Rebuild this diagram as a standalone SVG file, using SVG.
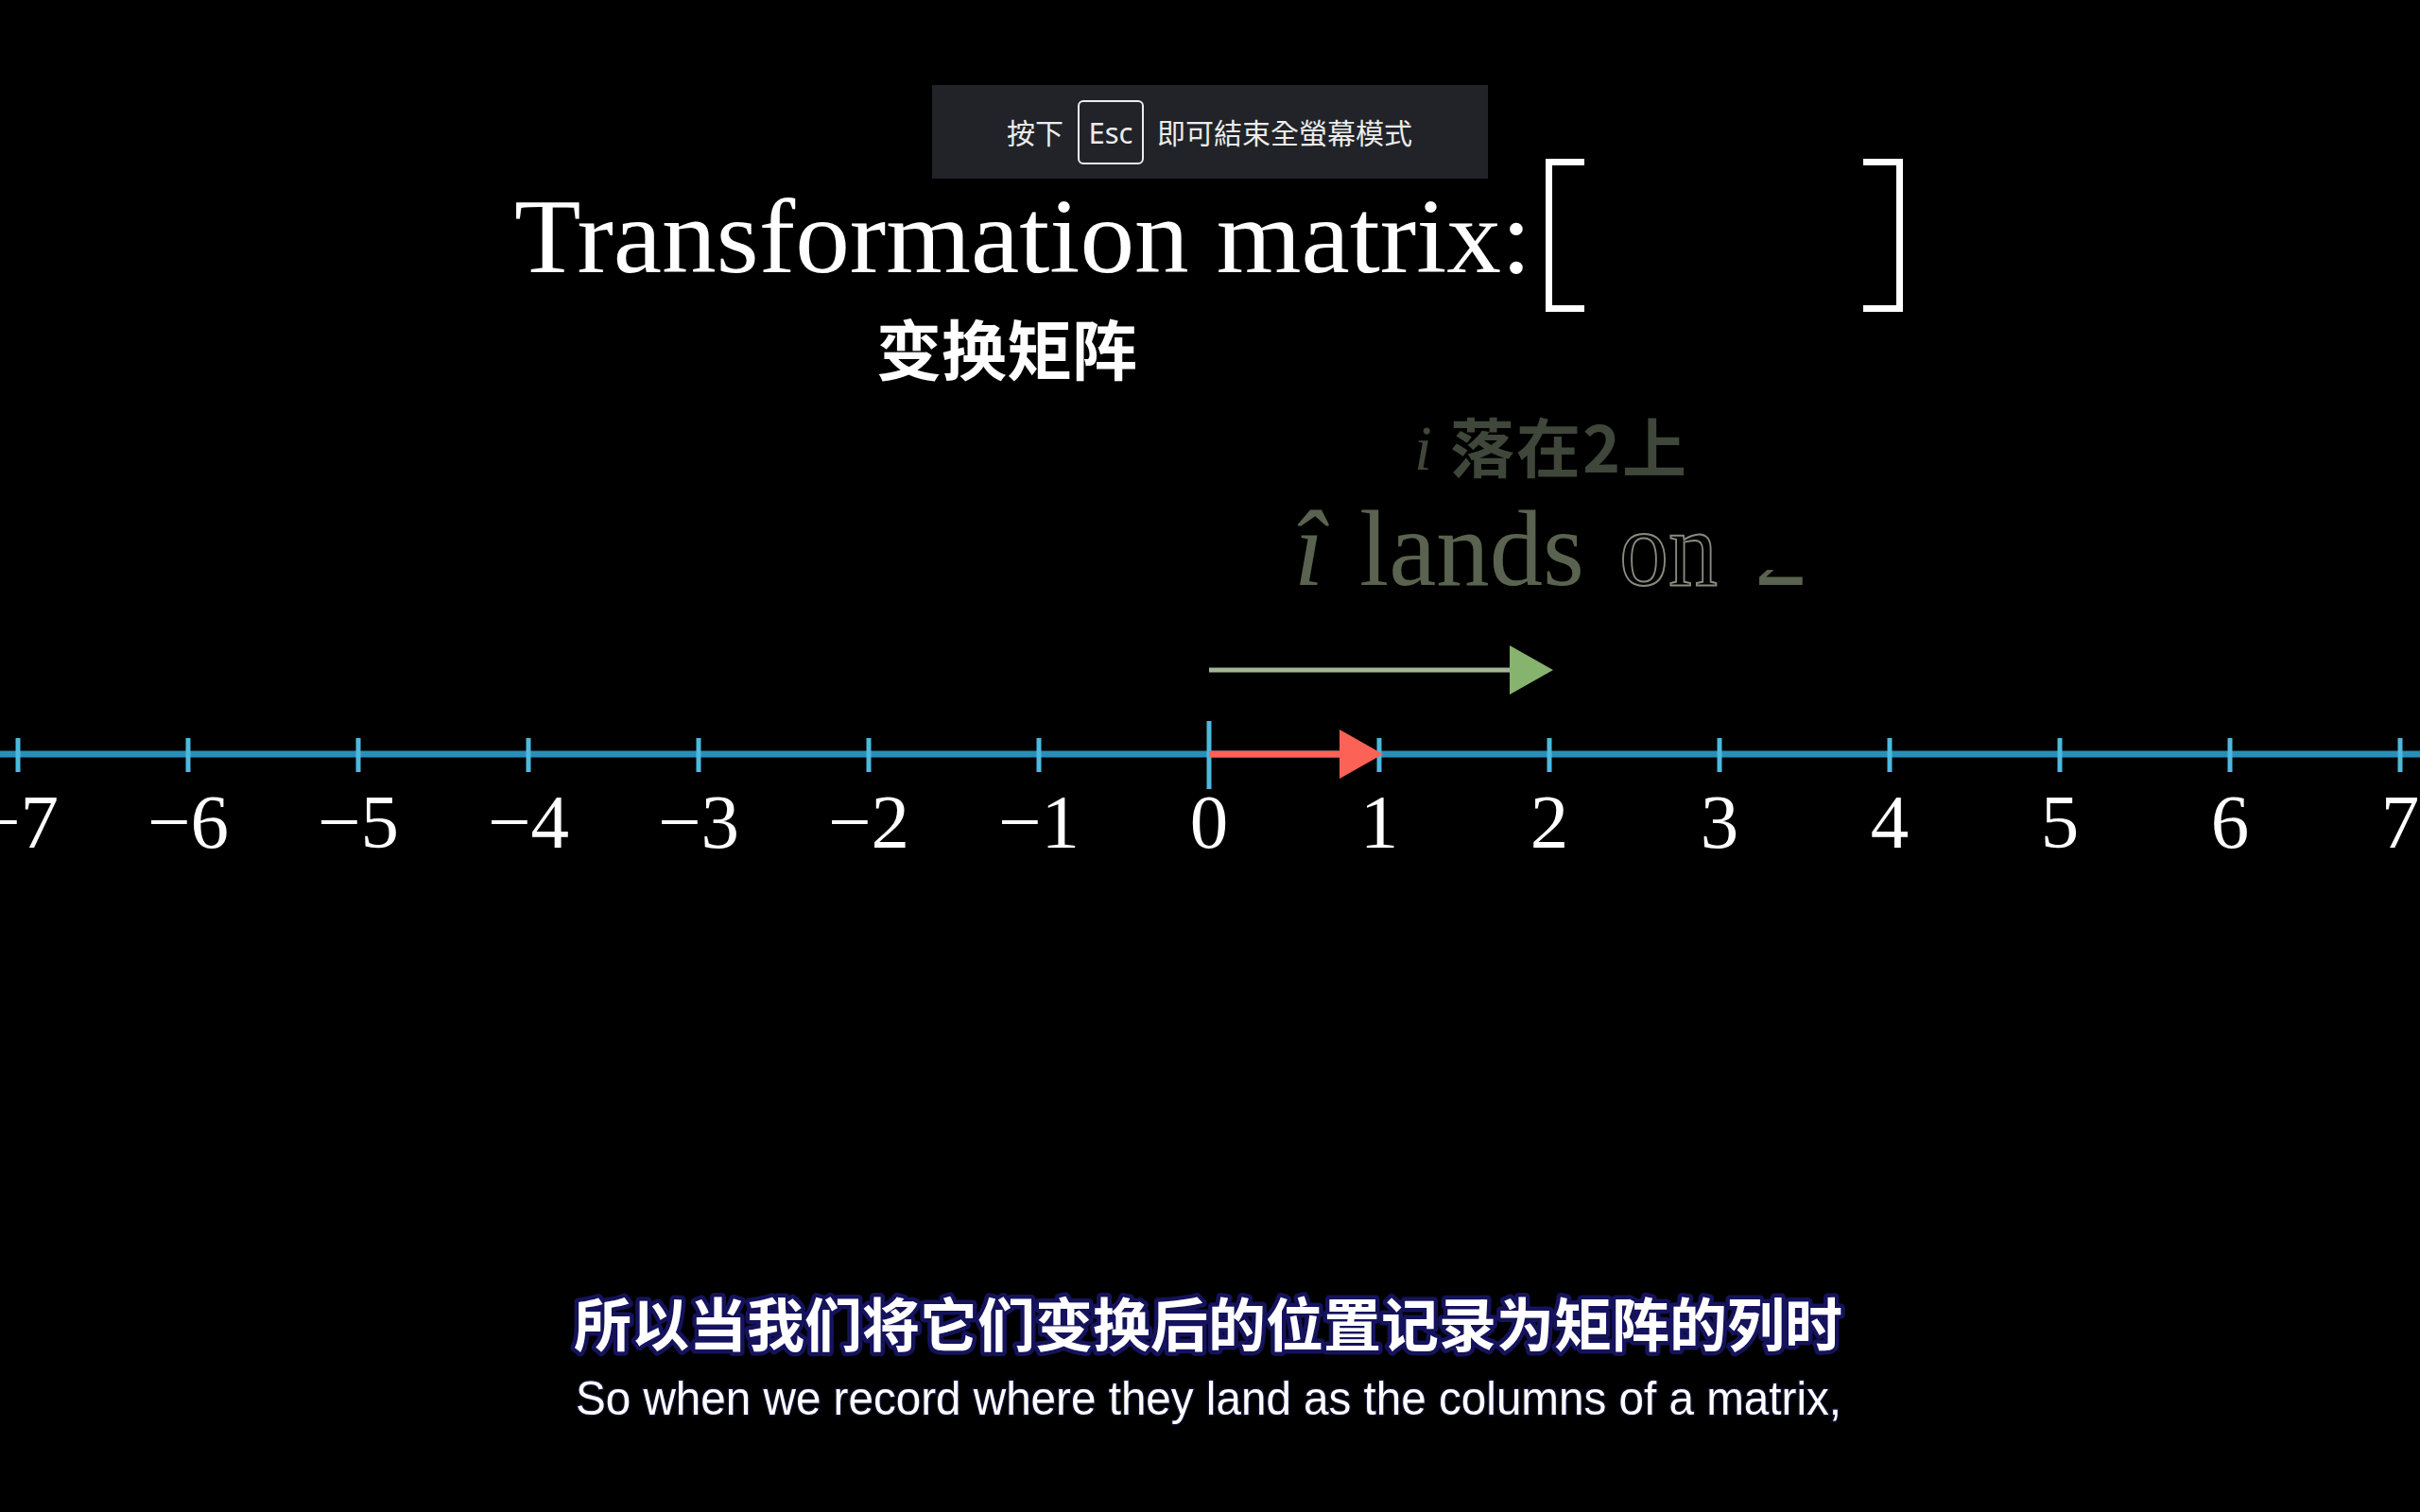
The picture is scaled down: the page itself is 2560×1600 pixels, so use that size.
<svg xmlns="http://www.w3.org/2000/svg" width="2560" height="1600" viewBox="0 0 2560 1600">
<style>
.tick{stroke:#4db9de;stroke-width:5}
.num{font-family:"Liberation Serif","DejaVu Serif",serif;font-size:81px;fill:#ffffff;text-anchor:middle}
.title{font-family:"Liberation Serif","DejaVu Serif",serif;fill:#ffffff}
.br{fill:none;stroke:#ffffff;stroke-width:7}
.esc{font-family:"Noto Sans CJK TC","Noto Sans",sans-serif;font-size:30px;fill:#ececec}
.sub{font-family:"Noto Sans CJK SC",sans-serif;font-weight:700;font-size:61px;fill:#ffffff;stroke:#15135c;stroke-width:9;stroke-linejoin:round;paint-order:stroke}
.en{font-family:"Liberation Sans",Arial,sans-serif;font-size:50px;fill:#ffffff;stroke:#101030;stroke-width:3;paint-order:stroke}
.ih{font-family:"Liberation Serif","DejaVu Serif",serif;font-size:114px;fill:#59634f}
</style>
<defs>
<clipPath id="clip2"><rect x="1850" y="603" width="80" height="30"/></clipPath>
</defs>
<rect width="2560" height="1600" fill="#000000"/>

<g id="numberline">
<line x1="0" y1="798" x2="2560" y2="798" stroke="#2690b8" stroke-width="7"/>
<line class="tick" x1="19" y1="781" x2="19" y2="817"/>
<line class="tick" x1="199" y1="781" x2="199" y2="817"/>
<line class="tick" x1="379" y1="781" x2="379" y2="817"/>
<line class="tick" x1="559" y1="781" x2="559" y2="817"/>
<line class="tick" x1="739" y1="781" x2="739" y2="817"/>
<line class="tick" x1="919" y1="781" x2="919" y2="817"/>
<line class="tick" x1="1099" y1="781" x2="1099" y2="817"/>
<line class="tick" x1="1279" y1="763" x2="1279" y2="835"/>
<line class="tick" x1="1459" y1="781" x2="1459" y2="817"/>
<line class="tick" x1="1639" y1="781" x2="1639" y2="817"/>
<line class="tick" x1="1819" y1="781" x2="1819" y2="817"/>
<line class="tick" x1="1999" y1="781" x2="1999" y2="817"/>
<line class="tick" x1="2179" y1="781" x2="2179" y2="817"/>
<line class="tick" x1="2359" y1="781" x2="2359" y2="817"/>
<line class="tick" x1="2539" y1="781" x2="2539" y2="817"/>
</g>

<g id="labels">
<text class="num" x="19" y="897">−7</text>
<text class="num" x="199" y="897">−6</text>
<text class="num" x="379" y="897">−5</text>
<text class="num" x="559" y="897">−4</text>
<text class="num" x="739" y="897">−3</text>
<text class="num" x="919" y="897">−2</text>
<text class="num" x="1099" y="897">−1</text>
<text class="num" x="1279" y="897">0</text>
<text class="num" x="1459" y="897">1</text>
<text class="num" x="1639" y="897">2</text>
<text class="num" x="1819" y="897">3</text>
<text class="num" x="1999" y="897">4</text>
<text class="num" x="2179" y="897">5</text>
<text class="num" x="2359" y="897">6</text>
<text class="num" x="2539" y="897">7</text>
</g>

<g id="vectors">
<line x1="1279" y1="709" x2="1600" y2="709" stroke="#a3b596" stroke-width="5"/>
<polygon points="1597,683 1643,709 1597,735" fill="#86b36e"/>
<line x1="1279" y1="798" x2="1420" y2="798" stroke="#fc6255" stroke-width="7"/>
<polygon points="1417,772 1463,798 1417,824" fill="#fc6255"/>
</g>

<g id="title">
<text class="title" x="544" y="288" font-size="112" textLength="1076" lengthAdjust="spacingAndGlyphs">Transformation matrix:</text>
<text x="927" y="397" font-family="Noto Sans CJK SC,sans-serif" font-weight="700" font-size="69" fill="#ffffff">变换矩阵</text>
</g>

<g id="matrix">
<path class="br" d="M1676,171.5 H1638.5 V326.5 H1676"/>
<path class="br" d="M1971,171.5 H2009.5 V326.5 H1971"/>
</g>

<g id="ihat-label">
<text x="1496" y="497" font-family="Liberation Serif,serif" font-style="italic" font-size="68" fill="#3f463a">i</text>
<text x="1534" y="500" font-family="Noto Sans CJK SC,sans-serif" font-weight="700" font-size="68" fill="#3f463a" textLength="250" lengthAdjust="spacing">落在2上</text>
<text class="ih" x="1369" y="619" font-style="italic">î</text>
<text class="ih" x="1438" y="619" textLength="238" lengthAdjust="spacingAndGlyphs">lands</text>
<text class="ih" x="1713" y="619" style="fill:none;stroke:#8a8a80;stroke-width:2" textLength="104" lengthAdjust="spacingAndGlyphs">on</text>
<text class="ih" x="1856" y="619" clip-path="url(#clip2)">2</text>
</g>

<g id="esc-overlay">
<rect x="986" y="90" width="588" height="99" fill="#212328"/>
<text class="esc" x="1065" y="152">按下</text>
<rect x="1141" y="107" width="68" height="66" rx="5" fill="none" stroke="#ececec" stroke-width="2"/>
<text x="1175" y="152" font-family="Noto Sans,sans-serif" font-size="31" fill="#ececec" text-anchor="middle">Esc</text>
<text class="esc" x="1224" y="152">即可結束全螢幕模式</text>
</g>

<g id="subtitles">
<text class="sub" x="1278" y="1425" text-anchor="middle">所以当我们将它们变换后的位置记录为矩阵的列时</text>
<text class="en" x="609" y="1497" textLength="1339" lengthAdjust="spacingAndGlyphs">So when we record where they land as the columns of a matrix,</text>
</g>
</svg>
